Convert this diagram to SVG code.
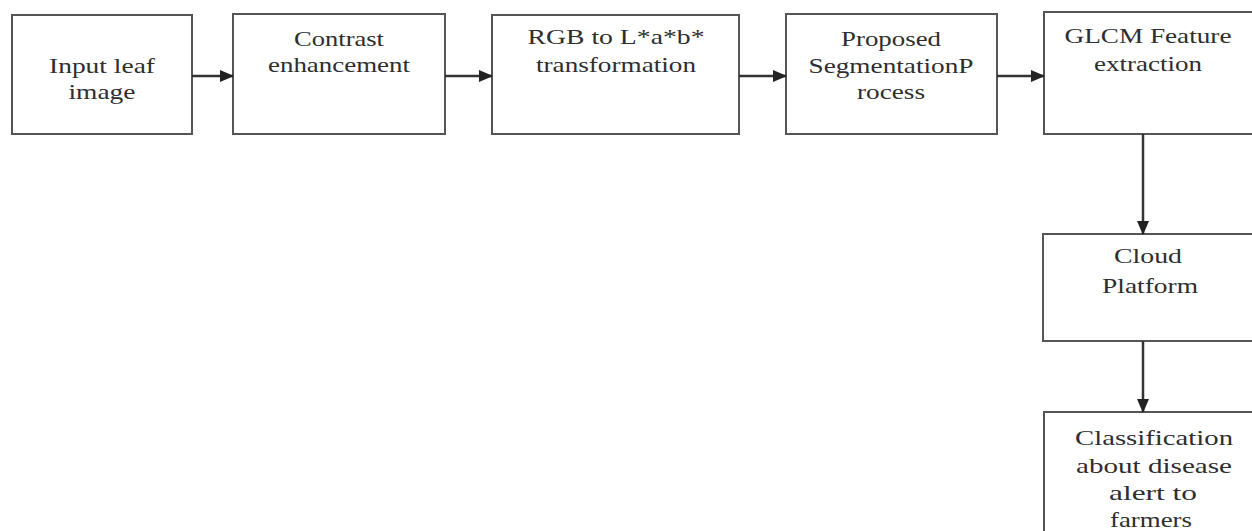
<svg xmlns="http://www.w3.org/2000/svg" width="1252" height="531" viewBox="0 0 1252 531">
<style>
.box{fill:#fff;stroke:#555;stroke-width:2}
.t{font-family:"Liberation Serif","Times New Roman",serif;font-size:22px;fill:#2e2e2e;text-anchor:middle}
.c{stroke:#333;stroke-width:2.5;fill:none}
</style>
<defs>
<marker id="ah" markerWidth="14" markerHeight="12" refX="13" refY="6" orient="auto" markerUnits="userSpaceOnUse">
<path d="M0,0 L14,6 L0,12 Z" fill="#222"/>
</marker>
</defs>
<rect width="1252" height="531" fill="#fff"/>
<g id="n1">
<rect class="box" x="12" y="15" width="180" height="119"/>
<text class="t" x="102" y="73" textLength="106" lengthAdjust="spacingAndGlyphs">Input leaf</text>
<text class="t" x="102" y="99" textLength="67" lengthAdjust="spacingAndGlyphs">image</text>
</g>
<g id="n2">
<rect class="box" x="233" y="14" width="212" height="120"/>
<text class="t" x="339" y="46" textLength="90" lengthAdjust="spacingAndGlyphs">Contrast</text>
<text class="t" x="339" y="72" textLength="142" lengthAdjust="spacingAndGlyphs">enhancement</text>
</g>
<g id="n3">
<rect class="box" x="492" y="15" width="247" height="119"/>
<text class="t" x="616" y="44" textLength="177" lengthAdjust="spacingAndGlyphs">RGB to L*a*b*</text>
<text class="t" x="616" y="72" textLength="160" lengthAdjust="spacingAndGlyphs">transformation</text>
</g>
<g id="n4">
<rect class="box" x="786" y="14" width="211" height="120"/>
<text class="t" x="891" y="46" textLength="100" lengthAdjust="spacingAndGlyphs">Proposed</text>
<text class="t" x="891" y="73" textLength="165" lengthAdjust="spacingAndGlyphs">SegmentationP</text>
<text class="t" x="891" y="99" textLength="68" lengthAdjust="spacingAndGlyphs">rocess</text>
</g>
<g id="n5">
<rect class="box" x="1044" y="12" width="212" height="122"/>
<text class="t" x="1148" y="43" textLength="167" lengthAdjust="spacingAndGlyphs">GLCM Feature</text>
<text class="t" x="1148" y="71" textLength="108" lengthAdjust="spacingAndGlyphs">extraction</text>
</g>
<g id="n6">
<rect class="box" x="1043" y="234" width="213" height="107"/>
<text class="t" x="1148" y="263" textLength="68" lengthAdjust="spacingAndGlyphs">Cloud</text>
<text class="t" x="1150" y="293" textLength="96" lengthAdjust="spacingAndGlyphs">Platform</text>
</g>
<g id="n7">
<rect class="box" x="1044" y="412" width="212" height="130"/>
<text class="t" x="1154" y="445" textLength="158" lengthAdjust="spacingAndGlyphs">Classification</text>
<text class="t" x="1154" y="473" textLength="156" lengthAdjust="spacingAndGlyphs">about disease</text>
<text class="t" x="1153" y="500" textLength="88" lengthAdjust="spacingAndGlyphs">alert to</text>
<text class="t" x="1151" y="527" textLength="82" lengthAdjust="spacingAndGlyphs">farmers</text>
</g>
<g id="connectors">
<line class="c" x1="192" y1="76" x2="233" y2="76" marker-end="url(#ah)"/>
<line class="c" x1="445" y1="76" x2="492" y2="76" marker-end="url(#ah)"/>
<line class="c" x1="739" y1="76" x2="786" y2="76" marker-end="url(#ah)"/>
<line class="c" x1="997" y1="76" x2="1044" y2="76" marker-end="url(#ah)"/>
<line class="c" x1="1143" y1="134" x2="1143" y2="234" marker-end="url(#ah)"/>
<line class="c" x1="1143" y1="341" x2="1143" y2="412" marker-end="url(#ah)"/>
</g>
</svg>
